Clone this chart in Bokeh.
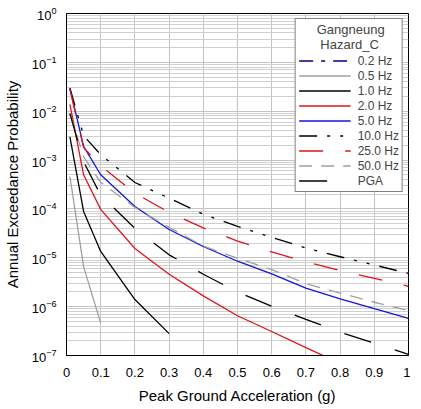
from bokeh.plotting import figure
from bokeh.models import FixedTicker, Legend, LegendItem, ColumnDataSource
from bokeh.embed import file_html
from bokeh.resources import INLINE

pga = [0.01, 0.05, 0.1, 0.2, 0.3, 0.4, 0.5, 0.6, 0.7, 0.8, 0.9, 1.0]

p_02hz = [float("nan")]
p_05hz = [4.6e-4, 6.6e-6, 4.6e-7]
p_1hz = [3.0e-3, 8.9e-5, 1.35e-5, 1.4e-6, 2.8e-7]
p_2hz = [1.38e-2, 5.0e-4, 9.8e-5, 1.55e-5, 4.6e-6, 1.66e-6, 6.5e-7, 3.1e-7, 1.45e-7, 6.9e-8]
p_5hz = [2.95e-2, 1.9e-3, 5.0e-4, 1.12e-4, 3.8e-5, 1.7e-5, 8.5e-6, 4.7e-6, 2.4e-6, 1.45e-6, 9.1e-7, 5.75e-7]
p_10hz = [2.95e-2, 3.16e-3, 1.29e-3, 3.47e-4, 1.66e-4, 7.8e-5, 4.4e-5, 2.63e-5, 1.58e-5, 1.05e-5, 7.1e-6, 4.8e-6]
p_25hz = [2.8e-2, 1.8e-3, 7.6e-4, 2.1e-4, 8.5e-5, 4.1e-5, 2.2e-5, 1.32e-5, 8.3e-6, 5.5e-6, 3.8e-6, 2.6e-6]
p_50hz = [8.9e-3, 1.17e-3, 3.5e-4, 1.07e-4, 4.2e-5, 1.74e-5, 9.8e-6, 5.75e-6, 2.95e-6, 1.9e-6, 1.23e-6, 8.3e-7]
p_pga = [8.9e-3, 9.3e-4, 1.9e-4, 4.0e-5, 1.15e-5, 4.6e-6, 2.0e-6, 1.02e-6, 5.5e-7, 3.0e-7, 1.78e-7, 1.05e-7]

labels = ["0.2 Hz", "0.5 Hz", "1.0 Hz", "2.0 Hz", "5.0 Hz", "10.0 Hz", "25.0 Hz", "50.0 Hz", "PGA"]
series = [p_02hz, p_05hz, p_1hz, p_2hz, p_5hz, p_10hz, p_25hz, p_50hz, p_pga]
colors = ["#000080", "#a0a0a0", "#000000", "#e0141c", "#1414e0", "#000000", "#e0141c", "#a0a0a0", "#000000"]
dashes = ["14 8 4 8", "solid", "solid", "solid", "solid", "18 10 3 10 3 10", "24 22", "13 9", "28 25"]

x_ticks = [0, 0.1, 0.2, 0.3, 0.4, 0.5, 0.6, 0.7, 0.8, 0.9, 1.0]
x_tick_labels = ["0", "0.1", "0.2", "0.3", "0.4", "0.5", "0.6", "0.7", "0.8", "0.9", "1"]
y_decades = [1e-7, 1e-6, 1e-5, 1e-4, 1e-3, 1e-2, 1e-1, 1e0]
legend_title = "\u00a0\u00a0\u00a0\u00a0\u00a0Gangneung\n\u00a0\u00a0\u00a0\u00a0\u00a0\u00a0Hazard_C"

FONT = "Liberation Sans"

p = figure(frame_width=342, frame_height=342, x_range=(0, 1), y_range=(1e-7, 1),
           y_axis_type="log", output_backend="svg", toolbar_location=None,
           min_border_left=61, min_border_right=2, min_border_top=13, min_border_bottom=42)

items = []
for lab, vals, col, dsh in zip(labels, series, colors, dashes):
    src = ColumnDataSource(dict(x=pga[:len(vals)], y=vals))
    r = p.line("x", "y", source=src, line_color=col, line_width=1.3, line_dash=dsh)
    items.append(LegendItem(label=lab, renderers=[r]))

minor = []
for d in y_decades[:-1]:
    for k in range(2, 10):
        minor.append(d * k)

p.xaxis.ticker = FixedTicker(ticks=x_ticks)
p.xaxis.major_label_overrides = {t: s for t, s in zip(x_ticks, x_tick_labels)}
p.yaxis.ticker = FixedTicker(ticks=y_decades, minor_ticks=minor)

for ax in (p.xaxis, p.yaxis):
    ax.major_tick_line_color = None
    ax.minor_tick_line_color = None
    ax.axis_line_color = "black"
    ax.major_label_text_font = FONT
    ax.major_label_text_font_size = "13px"
    ax.major_label_text_color = "black"
    ax.axis_label_text_font = FONT
    ax.axis_label_text_font_size = "15px"
    ax.axis_label_text_font_style = "normal"
    ax.axis_label_text_color = "black"

p.xaxis.axis_label = "Peak Ground Acceleration (g)"
p.yaxis.axis_label = "Annual Exceedance Probability"
p.xaxis.major_label_standoff = 6
p.xaxis.axis_label_standoff = 7
p.yaxis.major_label_standoff = 4
p.yaxis.axis_label_standoff = 8
p.yaxis.axis_line_dash = "3 1"

p.xgrid.grid_line_color = "#c4c4c4"
p.ygrid.grid_line_color = "#c4c4c4"
p.ygrid.minor_grid_line_color = "#cfcfcf"
p.outline_line_color = "black"
p.outline_line_alpha = 1

legend = Legend(items=items, location="top_right", title=legend_title)
legend.title_text_font = FONT
legend.title_text_font_size = "13px"
legend.title_text_font_style = "normal"
legend.title_standoff = 1
legend.label_text_font = FONT
legend.label_text_font_size = "12px"
legend.glyph_width = 52
legend.glyph_height = 15
legend.label_height = 15
legend.label_standoff = 7
legend.spacing = 0
legend.padding = 3
legend.margin = 5
legend.border_line_color = "black"
legend.border_line_width = 1
legend.background_fill_color = "white"
legend.background_fill_alpha = 1
p.add_layout(legend)

open("out.html", "w").write(file_html(p, INLINE))
